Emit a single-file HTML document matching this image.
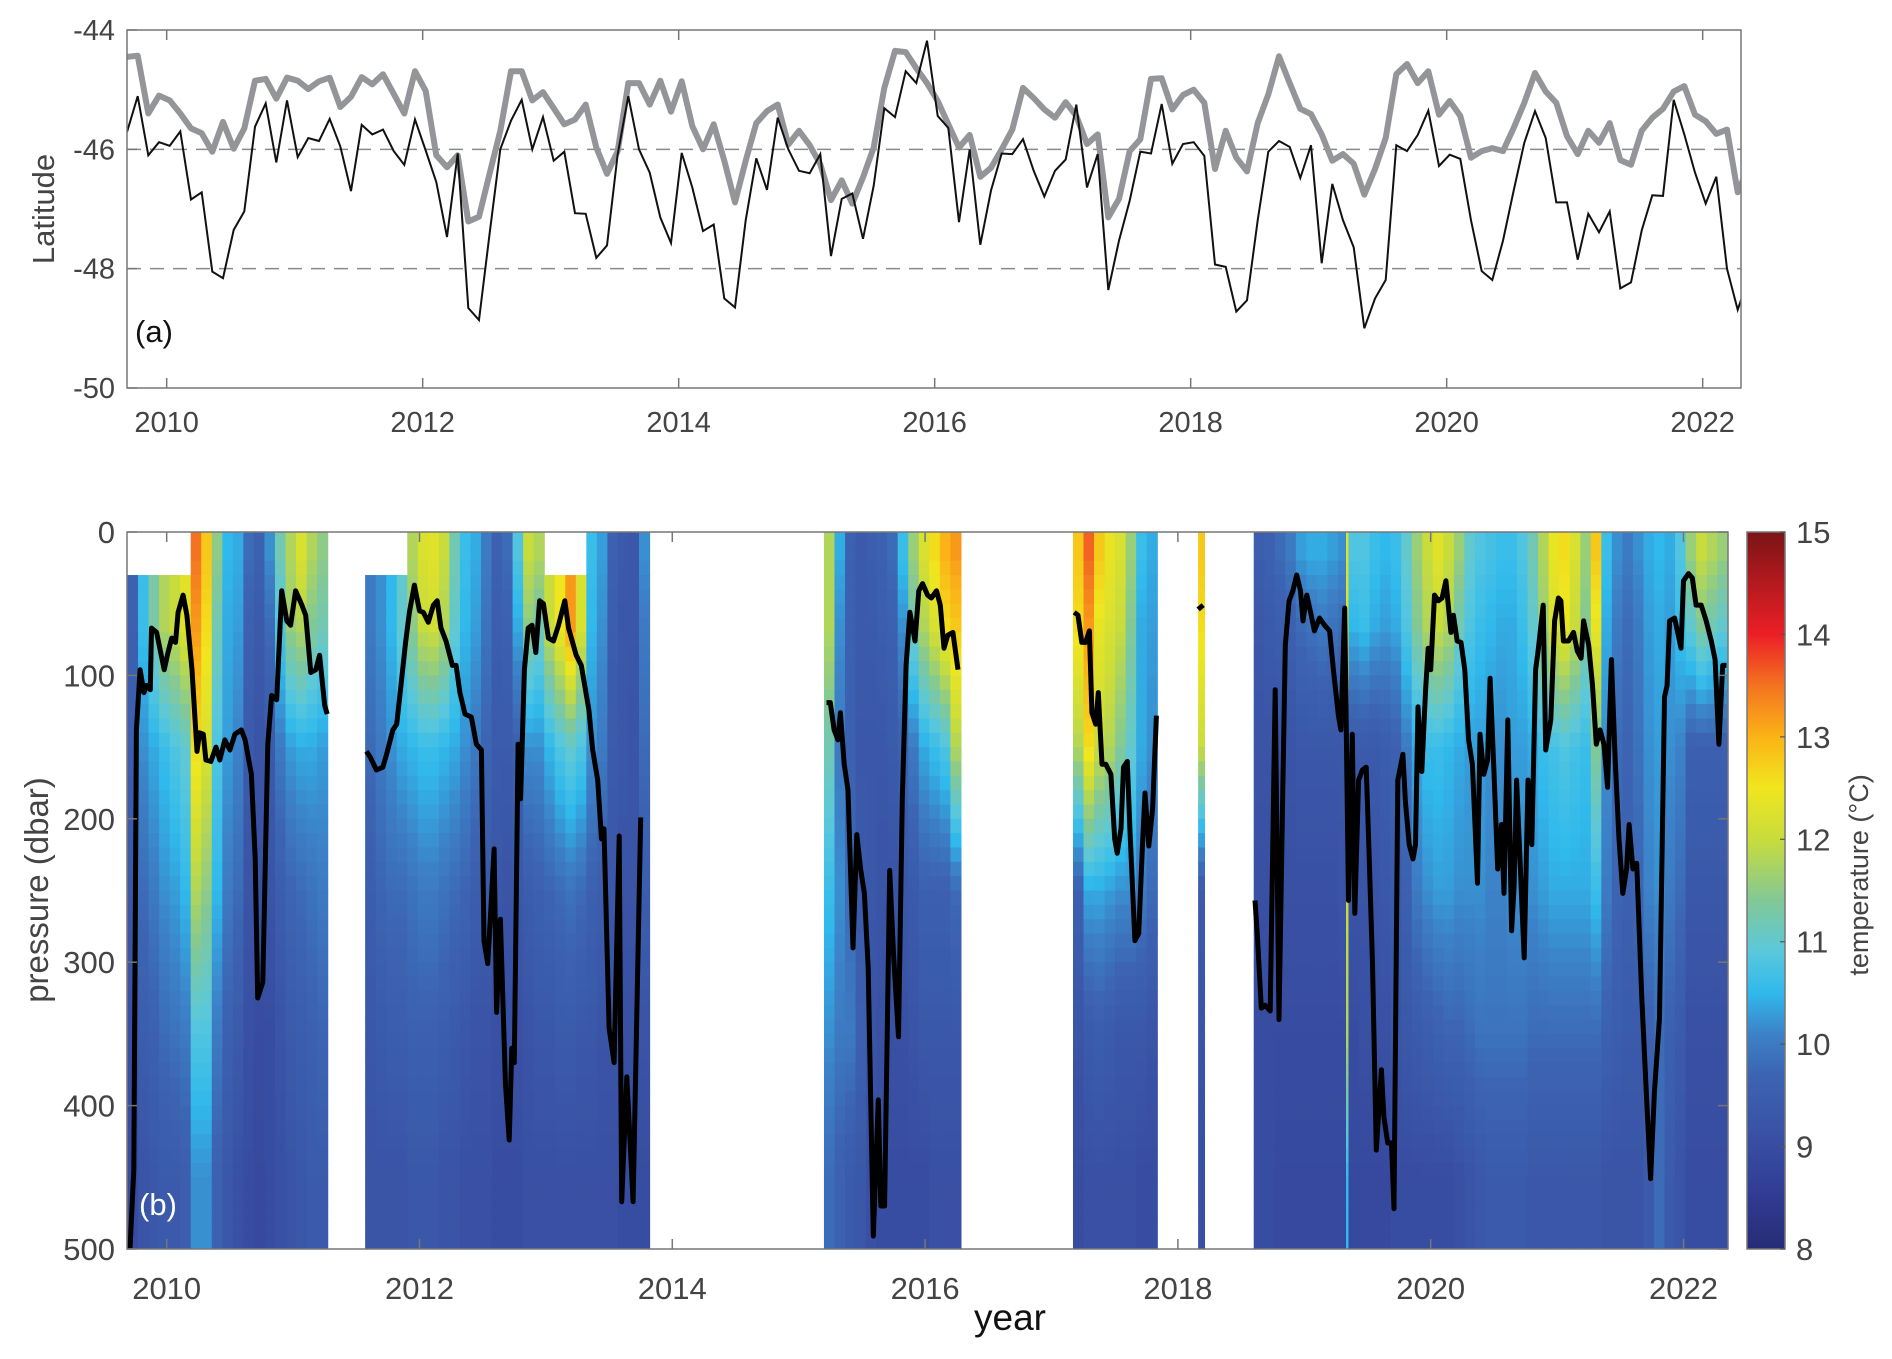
<!DOCTYPE html>
<html><head><meta charset="utf-8"><style>
html,body{margin:0;padding:0;background:#fff;}
svg{display:block;font-family:"Liberation Sans",Arial,sans-serif;}
</style></head><body>
<svg id="fig" width="1892" height="1359" viewBox="0 0 1892 1359" xmlns="http://www.w3.org/2000/svg">
<defs>
<linearGradient id="cbgrad" x1="0" y1="1" x2="0" y2="0"></linearGradient>
<clipPath id="clipTop"><rect x="127" y="30" width="1614" height="358"/></clipPath>
<clipPath id="clipBot"><rect x="127" y="532" width="1601" height="717"/></clipPath>
</defs>
<g id="topPanel"></g>
<g id="botPanel"></g>
<g id="cbar"></g>
</svg>
<script>
const latStart = 2009.69;
const latBlack = [-45.71,-45.11,-46.10,-45.88,-45.94,-45.70,-46.84,-46.72,-48.05,-48.16,-47.35,-47.04,-45.62,-45.23,-46.22,-45.18,-46.13,-45.81,-45.86,-45.49,-45.95,-46.70,-45.59,-45.75,-45.67,-46.03,-46.26,-45.50,-46.02,-46.55,-47.47,-46.07,-48.66,-48.86,
-47.4,-46.0,-45.52,-45.17,-46.0,-45.46,-46.19,-46.04,-47.07,-47.08,-47.82,-47.61,-46.08,-45.11,-46.0,-46.39,-47.14,-47.57,-46.06,-46.64,-47.37,-47.26,-48.5,-48.65,-47.19,-46.15,-46.68,-45.47,-46.0,-46.36,-46.40,-46.08,-47.79,-46.83,-46.74,-47.5,-46.61,-45.31,-45.46,-44.69,-44.89,-44.18,-45.44,-45.64,-47.22,-46.0,-47.6,-46.69,-46.07,-46.08,-45.83,-46.36,-46.79,-46.36,-46.17,-45.25,-46.64,-46.08,
-48.36,-47.53,-46.86,-46.04,-46.07,-45.24,-46.24,-45.91,-45.88,-46.11,-47.93,-47.97,-48.72,-48.53,-47.19,-46.04,-45.86,-45.96,-46.48,-45.93,-47.91,-46.58,-47.19,-47.64,-49.0,-48.5,-48.19,-45.93,-46.03,-45.76,-45.35,-46.28,-46.09,-46.16,-47.19,-48.04,-48.19,-47.53,-46.69,-45.89,-45.36,-45.81,-46.89,-46.89,-47.85,-47.08,-47.39,-47.04,-48.33,-48.23,-47.36,-46.77,-46.78,-45.17,-45.75,-46.39,-46.91,-46.46,-48.0,-48.69,-48.17];
const latGray = [-44.45,-44.43,-45.40,-45.10,-45.18,-45.40,-45.65,-45.73,-46.04,-45.54,-45.99,-45.65,-44.85,-44.82,-45.15,-44.80,-44.85,-44.99,-44.86,-44.80,-45.29,-45.12,-44.79,-44.91,-44.74,-45.07,-45.40,-44.69,-45.02,-46.10,-46.30,-46.10,-47.21,-47.13,
-46.4,-45.69,-44.69,-44.69,-45.18,-45.04,-45.31,-45.58,-45.5,-45.25,-45.97,-46.41,-46.03,-44.89,-44.89,-45.25,-44.85,-45.37,-44.86,-45.61,-46.0,-45.58,-46.19,-46.89,-46.19,-45.56,-45.36,-45.25,-45.92,-45.69,-45.93,-46.25,-46.85,-46.52,-46.91,-46.47,-45.97,-44.97,-44.35,-44.37,-44.64,-44.89,-45.19,-45.58,-45.97,-45.76,-46.46,-46.31,-46.0,-45.67,-44.97,-45.14,-45.33,-45.47,-45.21,-45.44,-45.91,-45.75,
-47.14,-46.83,-46.03,-45.83,-44.82,-44.81,-45.33,-45.09,-45.0,-45.22,-46.33,-45.69,-46.14,-46.37,-45.56,-45.08,-44.44,-44.89,-45.32,-45.41,-45.75,-46.19,-46.08,-46.24,-46.76,-46.33,-45.81,-44.74,-44.57,-44.89,-44.69,-45.42,-45.19,-45.44,-46.14,-46.03,-45.98,-46.03,-45.64,-45.22,-44.72,-45.03,-45.22,-45.78,-46.08,-45.69,-45.89,-45.56,-46.18,-46.26,-45.69,-45.47,-45.32,-45.03,-44.94,-45.42,-45.53,-45.74,-45.67,-46.72,-46.31];
const latTicks = [-44,-46,-48,-50];
const yearTicks = [2010,2012,2014,2016,2018,2020,2022];

const segStart = [2009.69, 2011.57, 2015.20, 2017.17, 2018.16, 2018.60];
const segMonths = [19, 27, 13, 8, 1, 45];
const segColWidthYears = [1/12, 1/12, 1/12, 1/12, 0.05, 1/12];
const levelCenters = [15, 65, 150, 250, 350, 450];
const T0 = [null,null,null,null,null,null,13.5,12.8,11.5,10.5,10.4,9.8,9.6,10.2,11.2,11.8,12.2,11.8,11.5,
 null,null,null,null,11.8,12.2,12.3,12.0,11.2,10.6,10.4,10.0,9.6,9.8,10.8,12.0,11.8,null,null,null,null,10.6,10.3,9.6,9.4,9.3,10.2,
 11.8,10.4,9.6,9.4,9.5,9.6,9.8,10.6,11.6,12.2,12.6,13.0,13.2,
 12.8,13.6,12.8,12.4,12.2,11.6,10.6,10.4,
 12.8,
 9.5,9.6,9.8,10.0,10.3,10.4,10.4,10.3,10.2,10.8,10.8,10.6,10.5,10.6,11.0,11.6,12.0,12.3,12.0,11.6,11.0,10.8,10.7,10.6,10.6,10.8,11.2,11.8,12.4,12.6,12.2,11.6,12.8,10.6,10.2,10.0,10.2,10.4,10.5,10.4,10.8,11.6,12.0,11.8,11.6];
const T1 = [9.6,10.6,11.3,11.8,12.0,12.3,13.2,12.6,11.2,10.4,10.3,9.6,9.4,9.8,10.8,11.6,11.8,11.4,11.2,
 10.0,10.2,10.5,11.0,11.5,12.0,12.1,11.8,11.0,10.5,10.3,9.9,9.5,9.6,10.4,11.5,11.2,12.0,12.5,13.2,12.2,10.5,10.2,9.5,9.3,9.3,10.0,
 11.8,10.2,9.6,9.4,9.4,9.5,9.6,10.2,11.2,11.8,12.2,12.6,12.8,
 12.6,13.2,12.4,12.2,12.0,11.4,10.4,10.3,
 12.6,
 9.3,9.4,9.5,9.6,9.8,9.9,10.0,9.9,9.8,10.5,10.6,10.4,10.3,10.4,10.8,11.4,11.8,12.0,11.8,11.2,10.8,10.6,10.5,10.4,10.4,10.6,11.0,11.6,12.2,12.4,12.0,11.4,12.4,10.4,10.0,9.8,10.0,10.3,10.4,10.3,10.6,11.0,11.4,11.2,11.0];
const T2 = [9.5,10.2,10.4,10.6,10.8,11.0,12.6,12.2,10.8,10.3,10.1,9.4,9.2,9.4,10.0,10.3,10.4,10.4,10.3,
 9.8,10.0,10.2,10.4,10.5,10.6,10.6,10.5,10.4,10.2,10.0,9.7,9.4,9.4,9.6,10.2,10.2,10.5,10.8,11.0,10.8,10.2,10.0,9.4,9.3,9.2,9.8,
 11.2,10.0,9.6,9.3,9.3,9.3,9.4,9.6,10.0,10.4,10.6,10.8,11.8,
 11.8,12.6,12.0,11.8,11.4,11.0,10.4,10.2,
 12.0,
 9.2,9.2,9.2,9.2,9.3,9.3,9.3,9.3,9.3,9.4,9.4,9.4,9.5,9.6,10.0,10.4,10.6,10.6,10.5,10.4,10.3,10.3,10.2,10.2,10.3,10.3,10.4,10.6,10.7,10.8,10.7,10.6,11.4,10.2,9.8,9.7,9.9,10.2,10.3,10.2,10.1,9.6,9.6,9.6,9.6];
const T3 = [9.3,9.8,10.0,10.2,10.3,10.5,11.8,11.5,10.5,10.0,9.8,9.2,9.1,9.2,9.5,9.7,9.8,9.9,10.0,
 9.5,9.7,9.8,9.8,9.9,10.0,10.0,9.9,9.8,9.7,9.5,9.4,9.3,9.2,9.3,9.5,9.6,9.7,9.8,9.9,9.8,9.6,9.5,9.3,9.2,9.2,9.5,
 10.6,10.2,9.8,9.4,9.3,9.2,9.2,9.3,9.4,9.6,9.6,9.6,9.8,
 9.6,10.4,10.4,10.3,10.2,10.2,10.0,9.8,
 9.4,
 9.1,9.1,9.1,9.1,9.1,9.1,9.1,9.1,9.2,9.2,9.2,9.2,9.3,9.4,9.6,10.0,10.2,10.3,10.3,10.2,10.2,10.2,10.1,10.1,10.2,10.2,10.2,10.3,10.4,10.4,10.4,10.4,10.6,10.0,9.7,9.6,9.7,10.1,10.2,10.0,9.8,9.3,9.3,9.3,9.3];
const T4 = [9.1,9.5,9.6,9.8,9.9,10.0,10.8,10.8,10.0,9.6,9.4,9.1,9.0,9.0,9.2,9.4,9.5,9.6,9.7,
 9.3,9.4,9.5,9.5,9.6,9.6,9.6,9.5,9.4,9.3,9.2,9.2,9.1,9.1,9.1,9.2,9.3,9.3,9.4,9.4,9.3,9.3,9.2,9.2,9.1,9.1,9.2,
 10.2,10.0,10.0,9.6,9.2,9.1,9.1,9.1,9.2,9.3,9.3,9.3,9.3,
 9.2,9.4,9.5,9.4,9.3,9.3,9.3,9.2,
 9.2,
 9.0,9.0,9.0,9.0,9.0,9.0,9.0,9.0,9.0,9.0,9.1,9.1,9.1,9.2,9.3,9.4,9.5,9.6,9.7,9.7,9.8,9.9,9.9,9.9,9.9,9.9,9.8,9.8,9.8,9.8,9.8,9.8,9.8,9.6,9.5,9.4,9.4,9.6,9.8,9.6,9.4,9.1,9.1,9.1,9.1];
const T5 = [9.0,9.2,9.3,9.4,9.4,9.5,10.2,10.2,9.6,9.3,9.1,9.0,8.9,9.0,9.1,9.2,9.3,9.4,9.4,
 9.2,9.2,9.2,9.2,9.3,9.3,9.3,9.2,9.2,9.1,9.1,9.1,9.0,9.0,9.0,9.1,9.1,9.1,9.1,9.1,9.1,9.1,9.1,9.1,9.0,9.0,9.0,
 9.8,9.6,9.4,9.3,9.1,9.0,9.0,9.0,9.0,9.0,9.1,9.1,9.1,
 9.0,9.1,9.1,9.1,9.1,9.1,9.0,9.0,
 9.1,
 9.0,9.0,8.9,8.9,8.9,8.9,8.9,8.9,8.9,8.9,8.9,8.9,8.9,9.0,9.0,9.0,9.0,9.0,9.0,9.1,9.2,9.3,9.4,9.4,9.4,9.4,9.3,9.3,9.3,9.3,9.3,9.3,9.3,9.2,9.2,9.2,9.2,9.4,9.8,9.4,9.2,9.0,9.0,9.0,9.0];
const streakTime = [2019.33];
const streakWidth = [0.015];
const streakTemps = [[12.3,12.3,12.0,12.0,11.8,10.5]];
const mldYear = [2009.71,2009.74,2009.76,2009.79,2009.82,2009.84,2009.87,2009.88,2009.92,2009.98,2010.01,2010.04,2010.07,2010.09,2010.13,2010.16,2010.20,2010.24,2010.26,2010.29,2010.31,2010.35,2010.39,2010.42,2010.46,2010.50,2010.54,2010.59,2010.62,2010.67,2010.70,2010.72,2010.76,2010.80,2010.83,2010.87,2010.91,2010.95,2010.98,2011.02,2011.07,2011.10,2011.14,2011.18,2011.21,2011.25,2011.27,NaN,
2011.58,2011.61,2011.66,2011.71,2011.74,2011.79,2011.82,2011.85,2011.89,2011.92,2011.96,2012.00,2012.03,2012.07,2012.11,2012.14,2012.17,2012.21,2012.26,2012.29,2012.32,2012.36,2012.41,2012.45,2012.49,2012.51,2012.54,2012.56,2012.59,2012.61,2012.64,2012.68,2012.71,2012.73,2012.75,2012.78,2012.80,2012.83,2012.86,2012.89,2012.92,2012.95,2012.98,2013.02,2013.06,2013.10,2013.15,2013.18,2013.24,2013.28,2013.34,2013.37,2013.41,2013.44,2013.46,2013.50,2013.54,2013.58,2013.60,2013.64,2013.69,2013.75,NaN,
2015.22,2015.25,2015.28,2015.31,2015.33,2015.36,2015.39,2015.43,2015.46,2015.49,2015.52,2015.55,2015.59,2015.63,2015.65,2015.68,2015.72,2015.75,2015.79,2015.82,2015.85,2015.88,2015.92,2015.95,2015.98,2016.02,2016.05,2016.09,2016.12,2016.15,2016.18,2016.22,2016.26,NaN,
2017.18,2017.21,2017.24,2017.27,2017.30,2017.32,2017.35,2017.37,2017.40,2017.43,2017.47,2017.50,2017.52,2017.55,2017.57,2017.60,2017.62,2017.66,2017.69,2017.72,2017.74,2017.77,2017.80,2017.83,NaN,
2018.16,2018.20,NaN,
2018.61,2018.63,2018.66,2018.69,2018.73,2018.77,2018.80,2018.83,2018.85,2018.88,2018.91,2018.94,2018.97,2018.99,2019.02,2019.05,2019.08,2019.12,2019.16,2019.20,2019.23,2019.27,2019.29,2019.32,2019.35,2019.38,2019.40,2019.43,2019.46,2019.49,2019.51,2019.54,2019.57,2019.61,2019.63,2019.66,2019.69,2019.71,2019.74,2019.78,2019.80,2019.83,2019.86,2019.88,2019.90,2019.93,2019.96,2019.98,2020.00,2020.03,2020.06,2020.09,2020.12,2020.16,2020.18,2020.21,2020.24,2020.27,2020.30,2020.33,2020.37,2020.39,2020.42,2020.45,2020.47,2020.50,2020.53,2020.56,2020.58,2020.61,2020.64,2020.66,2020.68,2020.71,2020.74,2020.77,2020.80,2020.83,2020.85,2020.89,2020.91,2020.95,2020.98,2021.01,2021.03,2021.05,2021.09,2021.13,2021.16,2021.19,2021.21,2021.25,2021.28,2021.31,2021.34,2021.37,2021.40,2021.43,2021.46,2021.49,2021.52,2021.55,2021.57,2021.60,2021.63,2021.67,2021.71,2021.74,2021.77,2021.81,2021.85,2021.87,2021.89,2021.93,2021.98,2022.00,2022.04,2022.07,2022.10,2022.14,2022.18,2022.22,2022.25,2022.28,2022.31,2022.34];
const mldP = [500,445,138,96,112,107,110,67,70,96,84,74,77,56,44,58,96,153,140,141,159,160,150,159,145,152,141,138,145,169,228,325,314,148,114,117,41,62,65,41,51,58,98,96,86,121,127,NaN,
153,157,166,164,155,138,134,110,77,56,37,55,56,63,51,48,67,76,93,93,112,127,129,148,152,285,301,270,221,335,270,384,424,360,370,148,186,96,67,65,84,48,50,74,76,65,48,67,86,93,124,152,173,214,207,346,370,212,467,380,467,199,NaN,
119,119,138,145,126,162,180,290,211,235,252,304,491,396,470,470,236,294,352,186,93,56,76,41,36,44,46,41,51,81,72,70,96,NaN,
56,58,77,77,69,126,134,112,162,162,169,214,224,207,164,160,207,285,280,218,182,219,193,128,NaN,
54,51,NaN,
257,283,332,330,334,110,340,180,79,48,41,30,41,62,44,56,69,60,65,69,96,128,138,53,257,141,266,173,166,164,218,301,431,375,408,426,426,472,173,155,188,218,228,218,122,167,110,81,96,44,48,46,34,70,58,76,77,96,145,162,245,141,169,159,102,166,235,204,252,131,278,247,173,235,297,173,218,96,83,51,152,131,62,46,48,76,76,70,83,88,62,79,107,148,138,148,178,89,159,214,252,235,204,235,231,325,398,451,391,339,115,107,62,60,81,34,29,32,51,51,62,76,89,148,93,93];
const pTicks = [0,100,200,300,400,500];
const cbTicks = [8,9,10,11,12,13,14,15];

const NS = "http://www.w3.org/2000/svg";
const TX0=127, TX1=1741, TY0=30, TY1=388;
const BX0=127, BX1=1728, BY0=532, BY1=1249;
const xT = t => TX0 + (t - 2009.69) * 128;
const yT = v => TY0 + (-44 - v) / 6 * (TY1 - TY0);
const xB = t => BX0 + (t - 2009.686) * 126.4;
const yB = p => BY0 + p / 500 * (BY1 - BY0);
// colour scale (value -> rgb), shared by heatmap and colorbar
const cStops = [[8,[38,44,118]],[8.6,[50,62,150]],[9.2,[58,84,166]],[9.7,[60,100,178]],[10.1,[60,130,200]],[10.5,[48,185,236]],[10.9,[90,200,220]],[11.4,[130,200,150]],[12,[200,220,60]],[12.5,[240,230,30]],[13,[251,179,22]],[13.5,[244,115,33]],[14,[236,31,38]],[15,[123,20,22]]];
function cmap(v){
  if(v<=cStops[0][0]) return 'rgb('+cStops[0][1].join(',')+')';
  for(let i=1;i<cStops.length;i++){
    if(v<=cStops[i][0]){const a=cStops[i-1],b=cStops[i],f=(v-a[0])/(b[0]-a[0]);
      return 'rgb('+[0,1,2].map(k=>Math.round(a[1][k]+(b[1][k]-a[1][k])*f)).join(',')+')';}
  }
  return 'rgb('+cStops[cStops.length-1][1].join(',')+')';
}
function el(tag, attrs, parent){const e=document.createElementNS(NS,tag);for(const k in attrs)e.setAttribute(k,attrs[k]);parent.appendChild(e);return e;}
// colorbar gradient stops
const grad = document.getElementById('cbgrad');
cStops.forEach(s=>{el('stop',{offset:((s[0]-8)/7).toFixed(4),'stop-color':'rgb('+s[1].join(',')+')'},grad);});

// ---------- top panel ----------
const topG = document.getElementById('topPanel');
el('rect',{x:TX0,y:TY0,width:TX1-TX0,height:TY1-TY0,fill:'#fff'},topG);
[-46,-48].forEach(v=>{const g=el('line',{x1:TX0,x2:TX1,y1:yT(v),y2:yT(v),stroke:'#8a8a8a','stroke-width':1.5,'stroke-dasharray':'14,9'},topG);

});
const tClip = el('g',{'clip-path':'url(#clipTop)'},topG);
const gPts = latGray.map((v,i)=>xT(latStart+i/12).toFixed(1)+','+yT(v).toFixed(1)).join(' ');
const gl = el('polyline',{points:gPts,fill:'none',stroke:'#939598','stroke-width':6,'stroke-linejoin':'round'},tClip);


const bPts = latBlack.map((v,i)=>xT(latStart+i/12).toFixed(1)+','+yT(v).toFixed(1)).join(' ');
const bl = el('polyline',{points:bPts,fill:'none',stroke:'#111','stroke-width':2},tClip);


const tFrame = el('rect',{x:TX0,y:TY0,width:TX1-TX0,height:TY1-TY0,fill:'none',stroke:'#777','stroke-width':1.5},topG);


latTicks.forEach(v=>{
  el('line',{x1:TX0,x2:TX0+10,y1:yT(v),y2:yT(v),stroke:'#777','stroke-width':1.5},topG);
  const t=el('text',{x:TX0-12,y:yT(v)+10,'text-anchor':'end','font-size':29,fill:'#444'},topG);t.textContent=v;
  
  
});
yearTicks.forEach(y=>{
  el('line',{x1:xT(y),x2:xT(y),y1:TY1,y2:TY1-10,stroke:'#777','stroke-width':1.5},topG);
  el('line',{x1:xT(y),x2:xT(y),y1:TY0,y2:TY0+10,stroke:'#777','stroke-width':1.5},topG);
  const t=el('text',{x:xT(y),y:432,'text-anchor':'middle','font-size':29,fill:'#444'},topG);t.textContent=y;
  
  
});
const latLab = el('text',{x:0,y:0,transform:'translate(54,209) rotate(-90)','text-anchor':'middle','font-size':31,fill:'#444'},topG);
latLab.textContent='Latitude';


const aLab = el('text',{x:135,y:342,'font-size':31,fill:'#111'},topG);
aLab.textContent='(a)';



// ---------- bottom panel ----------
const botG = document.getElementById('botPanel');
const bClip = el('g',{'clip-path':'url(#clipBot)'},botG);
const TL = [T0,T1,T2,T3,T4,T5];
function profileAt(vals, p){
  const pts=[];
  for(let L=0;L<vals.length;L++){ if(vals[L]!==null && vals[L]!==undefined) pts.push([levelCenters[L],vals[L]]); }
  if(p<=pts[0][0]) return pts[0][1];
  for(let i=1;i<pts.length;i++){ if(p<=pts[i][0]){const f=(p-pts[i-1][0])/(pts[i][0]-pts[i-1][0]); return pts[i-1][1]+(pts[i][1]-pts[i-1][1])*f;} }
  return pts[pts.length-1][1];
}
const rowStep = 10;
function drawColumn(t0, t1, vals, name){
  for(let p=0;p<500;p+=rowStep){
    if(p<30 && (vals[0]===null||vals[0]===undefined)) continue;
    const v = profileAt(vals, p+rowStep/2);
    const r = el('rect',{x:xB(t0).toFixed(2),y:yB(p).toFixed(2),width:(xB(t1)-xB(t0)+0.6).toFixed(2),height:(yB(p+rowStep)-yB(p)+0.6).toFixed(2),fill:cmap(v)},bClip);
    
    
  }
}
let col = 0;
segStart.forEach((s,si)=>{
  for(let k=0;k<segMonths[si];k++){
    const t0 = s + k*segColWidthYears[si], t1 = t0 + segColWidthYears[si];
    drawColumn(t0, t1, TL.map(a=>a[col]), 'heatmap-cell');
    col++;
  }
});
streakTime.forEach((t,i)=>{ drawColumn(t, t+streakWidth[i], streakTemps[i], 'heatmap-streak-cell'); });
let dPath='', pen=false;
mldYear.forEach((t,i)=>{
  const p=mldP[i];
  if(isNaN(t)||isNaN(p)){pen=false;return;}
  dPath += (pen?'L':'M') + xB(t).toFixed(1)+','+yB(p).toFixed(1)+' ';
  pen=true;
});
const ml = el('path',{d:dPath,fill:'none',stroke:'#000','stroke-width':5,'stroke-linejoin':'round'},bClip);


const bFrame = el('rect',{x:BX0,y:BY0,width:BX1-BX0,height:BY1-BY0,fill:'none',stroke:'#777','stroke-width':1.5},botG);


pTicks.forEach(p=>{
  el('line',{x1:BX0,x2:BX0+10,y1:yB(p),y2:yB(p),stroke:'#777','stroke-width':1.5},botG);
  el('line',{x1:BX1,x2:BX1-10,y1:yB(p),y2:yB(p),stroke:'#777','stroke-width':1.5},botG);
  const t=el('text',{x:BX0-12,y:yB(p)+11,'text-anchor':'end','font-size':31,fill:'#444'},botG);t.textContent=p;
  
  
});
yearTicks.forEach(y=>{
  el('line',{x1:xB(y),x2:xB(y),y1:BY1,y2:BY1-10,stroke:'#777','stroke-width':1.5},botG);
  el('line',{x1:xB(y),x2:xB(y),y1:BY0,y2:BY0+10,stroke:'#777','stroke-width':1.5},botG);
  const t=el('text',{x:xB(y),y:1299,'text-anchor':'middle','font-size':31,fill:'#444'},botG);t.textContent=y;
  
  
});
const pLab = el('text',{x:0,y:0,transform:'translate(48,890) rotate(-90)','text-anchor':'middle','font-size':33,fill:'#444'},botG);
pLab.textContent='pressure (dbar)';


const yLab = el('text',{x:1010,y:1330,'text-anchor':'middle','font-size':37,fill:'#111'},botG);
yLab.textContent='year';


const bLab = el('text',{x:139,y:1215,'font-size':31,fill:'#fff'},botG);
bLab.textContent='(b)';



// ---------- colorbar ----------
const cbG = document.getElementById('cbar');
const CX0=1747, CX1=1785;
const yC = v => BY1 - (v-8)/7*(BY1-BY0);
const cr = el('rect',{x:CX0,y:BY0,width:CX1-CX0,height:BY1-BY0,fill:'url(#cbgrad)',stroke:'#777','stroke-width':1.5},cbG);


cbTicks.forEach(v=>{
  el('line',{x1:CX1,x2:CX1-5,y1:yC(v),y2:yC(v),stroke:'#555','stroke-width':1.2},cbG);
  const t=el('text',{x:1796,y:yC(v)+11,'font-size':31,fill:'#444'},cbG);t.textContent=v;
  
  
});
const cLab = el('text',{x:0,y:0,transform:'translate(1868,875) rotate(-90)','text-anchor':'middle','font-size':27,fill:'#444'},cbG);
cLab.textContent='temperature (°C)';


</script>
</body></html>
